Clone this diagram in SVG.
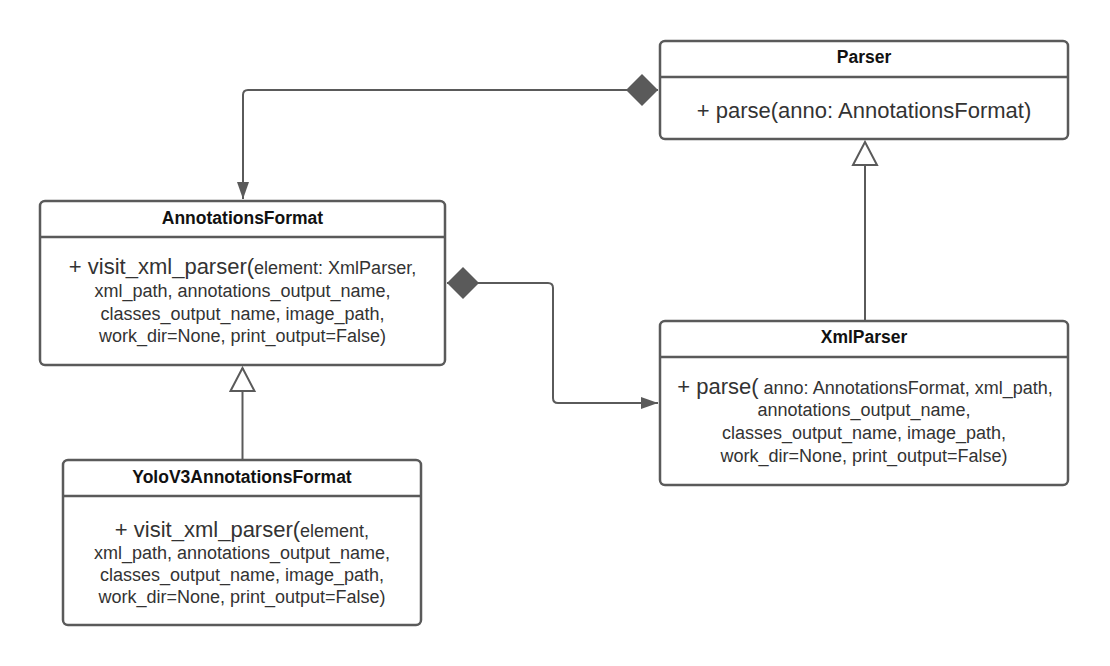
<svg xmlns="http://www.w3.org/2000/svg" width="1110" height="666" viewBox="0 0 1110 666">
<style>
.box{fill:#fff;stroke:#5a5a5a;stroke-width:2.5}
.sep{stroke:#5a5a5a;stroke-width:2.5}
.title{font-family:"Liberation Sans",Arial,sans-serif;font-weight:bold;font-size:17.5px;fill:#111;text-anchor:middle}
.body{font-family:"Liberation Sans",Arial,sans-serif;font-size:18px;fill:#333;text-anchor:middle}
.big{font-size:22px}
.conn{fill:none;stroke:#5a5a5a;stroke-width:2}
</style>
<defs>
<marker id="arrow" viewBox="0 0 17 12" refX="17" refY="6" markerWidth="17" markerHeight="12" markerUnits="userSpaceOnUse" orient="auto">
<path d="M0,0 L17,6 L0,12 z" fill="#5a5a5a"/>
</marker>
<marker id="diamond" viewBox="0 0 32 32" refX="0" refY="16" markerWidth="32" markerHeight="32" markerUnits="userSpaceOnUse" orient="auto">
<path d="M0,16 L16,0 L32,16 L16,32 z" fill="#5a5a5a"/>
</marker>
<marker id="tri" viewBox="-2 -2 27 28" refX="23" refY="12" markerWidth="27" markerHeight="28" markerUnits="userSpaceOnUse" orient="auto">
<path d="M0,0 L23,12 L0,24 z" fill="#fff" stroke="#5a5a5a" stroke-width="2"/>
</marker>
</defs>
<rect width="1110" height="666" fill="#fff"/>
<g id="connectors">
<path class="conn" d="M658 90 L248 90 Q243 90 243 95 L243 199" marker-start="url(#diamond)" marker-end="url(#arrow)"/>
<path class="conn" d="M447 283 L548 283 Q553 283 553 288 L553 398 Q553 403 558 403 L658 403" marker-start="url(#diamond)" marker-end="url(#arrow)"/>
<path class="conn" d="M865 321 L865 142" marker-end="url(#tri)"/>
<path class="conn" d="M242.5 460 L242.5 368" marker-end="url(#tri)"/>
</g>
<g id="parser">
<rect class="box" x="660" y="41" width="408" height="98" rx="5"/>
<line class="sep" x1="660" y1="77" x2="1068" y2="77"/>
<text class="title" x="864" y="62.5">Parser</text>
<text class="body big" x="864" y="117.5">+ parse(anno: AnnotationsFormat)</text>
</g>
<g id="annotationsformat">
<rect class="box" x="40" y="201" width="405" height="164" rx="5"/>
<line class="sep" x1="40" y1="237" x2="445" y2="237"/>
<text class="title" x="242.5" y="223.5">AnnotationsFormat</text>
<text class="body" x="242.5" y="274"><tspan class="big">+ visit_xml_parser(</tspan>element: XmlParser,</text>
<text class="body" x="242.5" y="297">xml_path, annotations_output_name,</text>
<text class="body" x="242.5" y="319.5">classes_output_name, image_path,</text>
<text class="body" x="242.5" y="342">work_dir=None, print_output=False)</text>
</g>
<g id="xmlparser">
<rect class="box" x="660" y="321" width="408" height="164" rx="5"/>
<line class="sep" x1="660" y1="357" x2="1068" y2="357"/>
<text class="title" x="864" y="342.5">XmlParser</text>
<text class="body" x="865" y="393.5"><tspan class="big">+ parse(</tspan> anno: AnnotationsFormat, xml_path,</text>
<text class="body" x="864" y="416">annotations_output_name,</text>
<text class="body" x="864" y="439">classes_output_name, image_path,</text>
<text class="body" x="864" y="461.5">work_dir=None, print_output=False)</text>
</g>
<g id="yolov3annotationsformat">
<rect class="box" x="63" y="460" width="358" height="165" rx="5"/>
<line class="sep" x1="63" y1="496" x2="421" y2="496"/>
<text class="title" x="242" y="483">YoloV3AnnotationsFormat</text>
<text class="body" x="242" y="536.5"><tspan class="big">+ visit_xml_parser(</tspan>element,</text>
<text class="body" x="242" y="558.5">xml_path, annotations_output_name,</text>
<text class="body" x="242" y="580.5">classes_output_name, image_path,</text>
<text class="body" x="242" y="602.5">work_dir=None, print_output=False)</text>
</g>
</svg>
